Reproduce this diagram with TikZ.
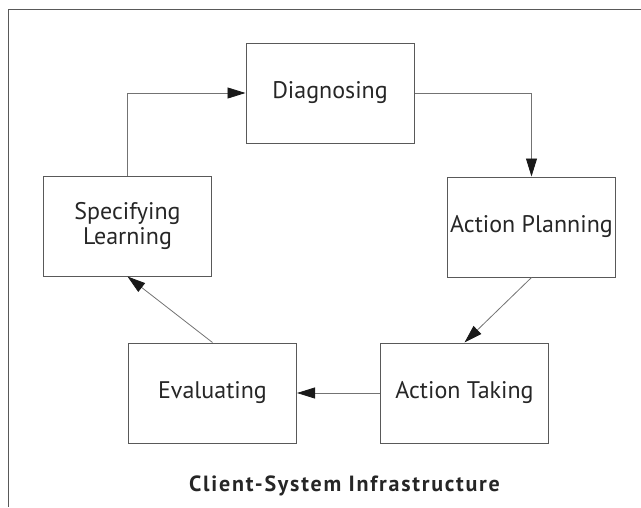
\documentclass[tikz,border=0pt]{standalone}
\usepackage{fontspec}
\setmainfont{PT Sans}
\newfontfamily\titlefont[LetterSpace=8]{PT Sans}
\usetikzlibrary{arrows.meta}

\begin{document}
\begin{tikzpicture}[x=1pt,y=-1pt,
  stage/.style={draw=black!65,line width=1pt,minimum width=168pt,minimum height=100pt,
    inner sep=0pt,align=center,text=black!85,font=\fontsize{24}{25}\selectfont},
  flow/.style={draw=black!55,line width=0.8pt,-{Triangle[length=18pt,width=11pt,color=black!90]}}]
\useasboundingbox (0,0) rectangle (641,507);
% open frame
\draw[black!65,line width=1pt] (641,9) -- (8,9) -- (8,507);
% the five stages
\node[stage] (diag) at (330,93) {Diagnosing};
\node[stage] (plan) at (531.5,227) {Action Planning};
\node[stage] (take) at (464.5,393) {Action Taking};
\node[stage] (eval) at (212.5,393) {Evaluating};
\node[stage] (spec) at (127.5,226) {Specifying\\Learning};
% the cycle
\draw[flow] (spec.north) |- (diag.west);
\draw[flow] (diag.east) -| (plan.north);
\draw[flow] (plan.south) -- (take.north);
\draw[flow] (take.west) -- (eval.east);
\draw[flow] (eval.north) -- (spec.south);
\node[text=black!85,font=\titlefont\fontsize{22}{24}\selectfont\bfseries] (infra) at (344.5,486) {Client-System Infrastructure};
\end{tikzpicture}
\end{document}
